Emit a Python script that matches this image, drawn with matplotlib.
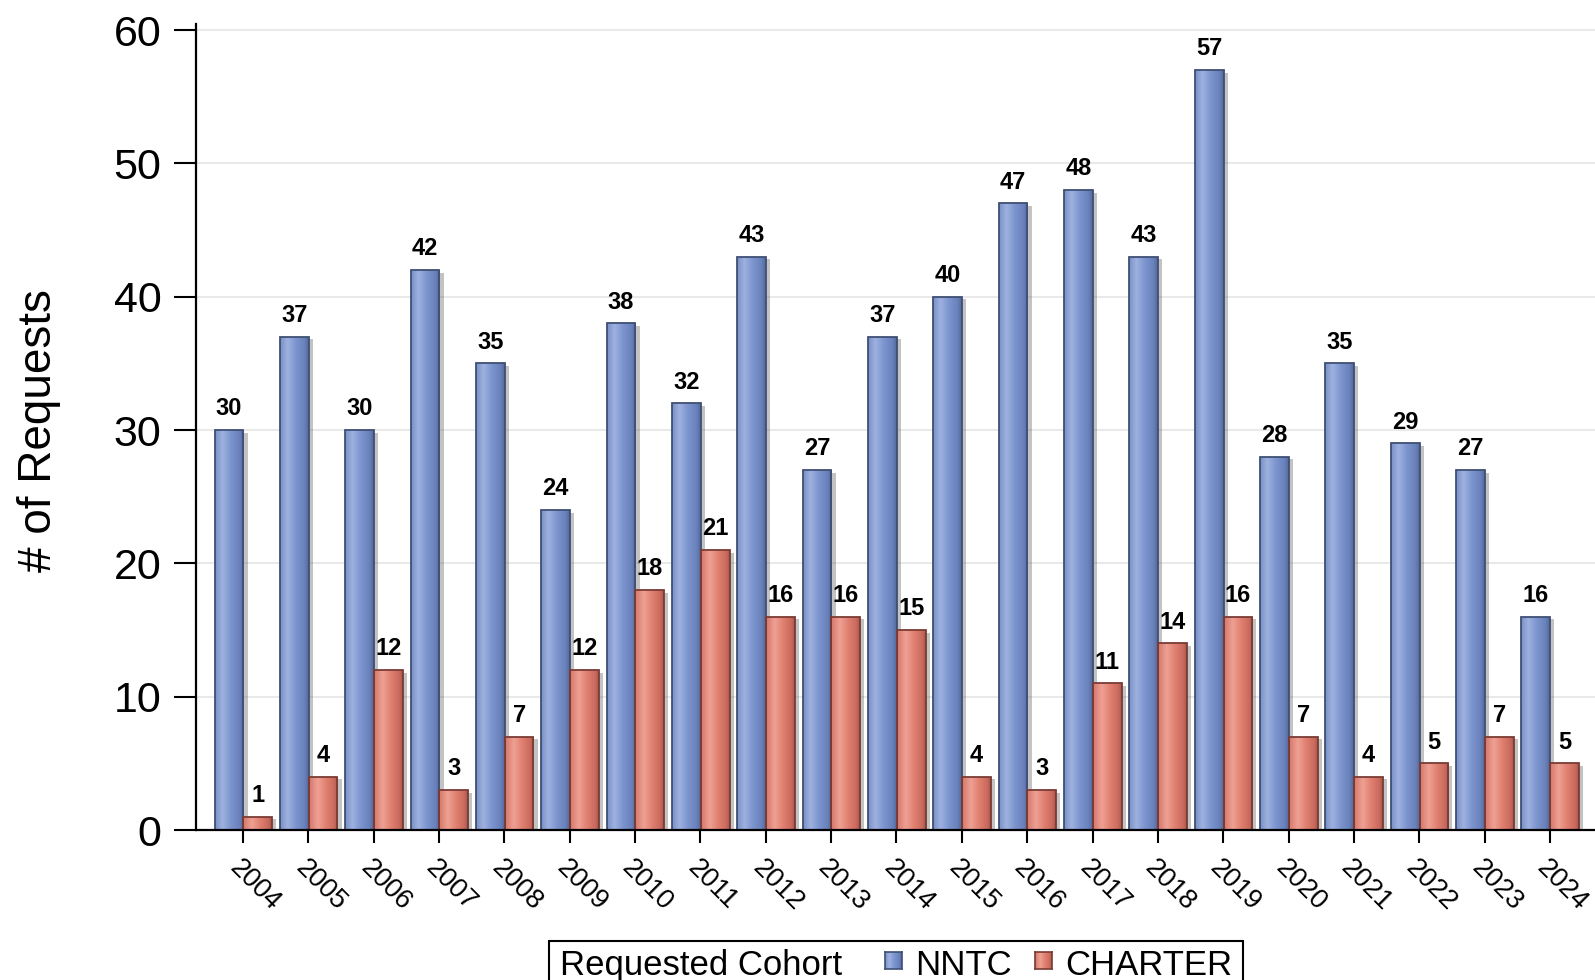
import numpy as np
import matplotlib
matplotlib.use("Agg")
import matplotlib.pyplot as plt
from matplotlib.colors import LinearSegmentedColormap
from matplotlib.patches import Rectangle
import matplotlib.patheffects as pe

plt.rcParams['font.family'] = ['Liberation Sans', 'DejaVu Sans']

years = [str(y) for y in range(2004, 2025)]
nntc = [30, 37, 30, 42, 35, 24, 38, 32, 43, 27, 37, 40, 47, 48, 43, 57, 28, 35, 29, 27, 16]
charter = [1, 4, 12, 3, 7, 12, 18, 21, 16, 16, 15, 4, 3, 11, 14, 16, 7, 4, 5, 7, 5]
yticks = [0, 10, 20, 30, 40, 50, 60]
series_names = ["NNTC", "CHARTER"]
legend_title = "Requested Cohort"

W, H = 1595, 980
fig = plt.figure(figsize=(W / 100, H / 100), dpi=100)
ax = fig.add_axes([196 / W, 150 / H, 1 - 196 / W, 806 / H])

blue_cmap = LinearSegmentedColormap.from_list(
    "b", [(0, "#7890c6"), (0.25, "#9fb2e0"), (0.55, "#7c95cf"), (0.85, "#6a82bb"), (1, "#54699c")])
red_cmap = LinearSegmentedColormap.from_list(
    "r", [(0, "#d6766a"), (0.3, "#eea194"), (0.6, "#e07f70"), (0.88, "#c96b5e"), (1, "#a9574b")])
blue_edge = "#3f4f74"
red_edge = "#7a3b34"

x = np.arange(len(years))
bw = 0.44
grad = np.linspace(0, 1, 64).reshape(1, -1)

def gradient_bars(xpos, vals, cmap, edge):
    bars = ax.bar(xpos, vals, width=bw, color=cmap(0.5), zorder=2, linewidth=0,
                  path_effects=[pe.SimplePatchShadow(offset=(3, -2), shadow_rgbFace="#555555", alpha=0.35),
                                pe.Normal()])
    for b in bars:
        x0, y0 = b.get_x(), b.get_y()
        w, h = b.get_width(), b.get_height()
        im = ax.imshow(grad, cmap=cmap, extent=(x0, x0 + w, y0, y0 + h), aspect="auto",
                       interpolation="bicubic", zorder=2.1)
        im.set_clip_path(b)
    ax.bar(xpos, vals, width=bw, facecolor="none", edgecolor=edge, linewidth=1.3, zorder=2.2)
    for xi, v in zip(xpos, vals):
        ax.annotate(str(v), (xi, v), xytext=(0, 7), textcoords="offset points",
                    ha="center", va="bottom", fontsize=17, fontweight="bold", zorder=3)
    return bars

gradient_bars(x - 0.215, nntc, blue_cmap, blue_edge)
gradient_bars(x + 0.225, charter, red_cmap, red_edge)

ax.set_xlim(-0.72, 20.69)
ax.set_ylim(0, 60.45)
ax.set_yticks(yticks)
ax.set_xticks(x)
ax.set_xticklabels(years)
ax.grid(axis="y", color="#e9e9e9", linewidth=1.5, zorder=0)
ax.set_axisbelow(True)
for s in ["top", "right"]:
    ax.spines[s].set_visible(False)
for s in ["left", "bottom"]:
    ax.spines[s].set_linewidth(1.6)
    ax.spines[s].set_color("black")
ax.tick_params(axis="y", length=16, width=1.5, pad=9, labelsize=31)
ax.tick_params(axis="x", length=9, width=1.5, pad=9, labelsize=19.5)
plt.setp(ax.get_xticklabels(), rotation=-45, ha="left", va="top", rotation_mode="anchor")

fig.text(39 / W, 1 - 431 / H, "# of Requests", rotation=90, ha="center", va="center", fontsize=33)

# legend box (bottom, clipped by figure edge)
def fx(px):
    return px / W
def fy(py):
    return 1 - py / H

fig.patches.append(Rectangle((fx(549), fy(1000)), (1243 - 549) / W, (1000 - 941) / H,
                             transform=fig.transFigure, facecolor="none", edgecolor="black",
                             linewidth=1.5, clip_on=False, zorder=5))
fig.text(fx(560), fy(975), legend_title, fontsize=25, ha="left", va="baseline")
sq = 17
for (px, name, cmap, edge) in [(885, series_names[0], blue_cmap, blue_edge),
                               (1035, series_names[1], red_cmap, red_edge)]:
    rax = fig.add_axes([fx(px), fy(969), sq / W, sq / H])
    rax.set_zorder(6)
    rax.imshow(grad, cmap=cmap, aspect="auto", extent=(0, 1, 0, 1))
    rax.set_xticks([]); rax.set_yticks([])
    for s in rax.spines.values():
        s.set_color(edge); s.set_linewidth(1.2)
    fig.text(fx(px + 30), fy(975), name, fontsize=25, ha="left", va="baseline")

fig.savefig("out.png", dpi=100, facecolor="white")
